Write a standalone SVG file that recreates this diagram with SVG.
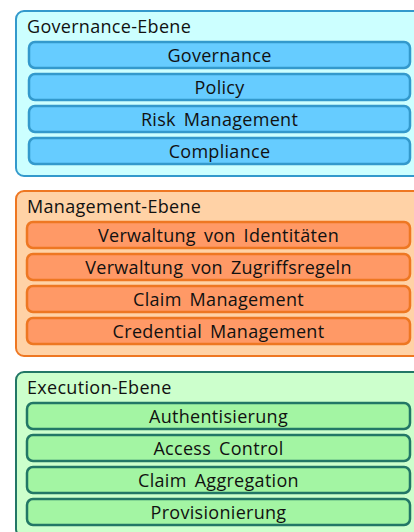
<svg xmlns="http://www.w3.org/2000/svg" width="414" height="532" viewBox="0 0 414 532">
  <style>
    text { font-family: "Open Sans", "DejaVu Sans", sans-serif; font-size: 18px; letter-spacing: 0.3px; fill: #111; }
    .title { text-anchor: start; }
    .item { text-anchor: middle; word-spacing: 3px; }
    .layer { stroke-width: 2; }
    .box { stroke-width: 2.5; }
    .gov .layer { fill: #ccffff; stroke: #3399cc; }
    .gov .box { fill: #66ccff; stroke: #3399cc; }
    .mgmt .layer { fill: #ffd2a6; stroke: #ee7722; }
    .mgmt .box { fill: #ff9966; stroke: #ee7722; }
    .exec .layer { fill: #ccffcc; stroke: #227766; }
    .exec .box { fill: #a3f5a3; stroke: #227766; }
  </style>

  <!-- Governance layer -->
  <g id="governance-layer" class="gov">
    <rect class="layer" x="16" y="11" width="410" height="165" rx="8"/>
    <text class="title" x="27" y="32.5">Governance-Ebene</text>
    <g id="governance">
      <rect class="box" x="29" y="42" width="381" height="26" rx="6"/>
      <text class="item" x="219.5" y="61.5">Governance</text>
    </g>
    <g id="policy">
      <rect class="box" x="29" y="74" width="381" height="26" rx="6"/>
      <text class="item" x="219.5" y="93.5">Policy</text>
    </g>
    <g id="risk-management">
      <rect class="box" x="29" y="106" width="381" height="26" rx="6"/>
      <text class="item" x="219.5" y="125.5">Risk Management</text>
    </g>
    <g id="compliance">
      <rect class="box" x="29" y="138" width="381" height="26" rx="6"/>
      <text class="item" x="219.5" y="157.5">Compliance</text>
    </g>
  </g>

  <!-- Management layer -->
  <g id="management-layer" class="mgmt">
    <rect class="layer" x="16" y="191" width="410" height="165" rx="8"/>
    <text class="title" x="27" y="212.5">Management-Ebene</text>
    <g id="identity-admin">
      <rect class="box" x="27" y="222" width="383" height="26" rx="6"/>
      <text class="item" x="218.5" y="241.5">Verwaltung von Identitäten</text>
    </g>
    <g id="access-rule-admin">
      <rect class="box" x="27" y="254" width="383" height="26" rx="6"/>
      <text class="item" x="218.5" y="273.5">Verwaltung von Zugriffsregeln</text>
    </g>
    <g id="claim-management">
      <rect class="box" x="27" y="286" width="383" height="26" rx="6"/>
      <text class="item" x="218.5" y="305.5">Claim Management</text>
    </g>
    <g id="credential-management">
      <rect class="box" x="27" y="318" width="383" height="26" rx="6"/>
      <text class="item" x="218.5" y="337.5">Credential Management</text>
    </g>
  </g>

  <!-- Execution layer -->
  <g id="execution-layer" class="exec">
    <rect class="layer" x="16" y="372" width="410" height="165" rx="8"/>
    <text class="title" x="27" y="393.5">Execution-Ebene</text>
    <g id="authentication">
      <rect class="box" x="27" y="403" width="383" height="26" rx="6"/>
      <text class="item" x="218.5" y="422.5">Authentisierung</text>
    </g>
    <g id="access-control">
      <rect class="box" x="27" y="435" width="383" height="26" rx="6"/>
      <text class="item" x="218.5" y="454.5">Access Control</text>
    </g>
    <g id="claim-aggregation">
      <rect class="box" x="27" y="467" width="383" height="26" rx="6"/>
      <text class="item" x="218.5" y="486.5">Claim Aggregation</text>
    </g>
    <g id="provisioning">
      <rect class="box" x="27" y="499" width="383" height="26" rx="6"/>
      <text class="item" x="218.5" y="518.5">Provisionierung</text>
    </g>
  </g>

  <g id="connectors"/>
</svg>
